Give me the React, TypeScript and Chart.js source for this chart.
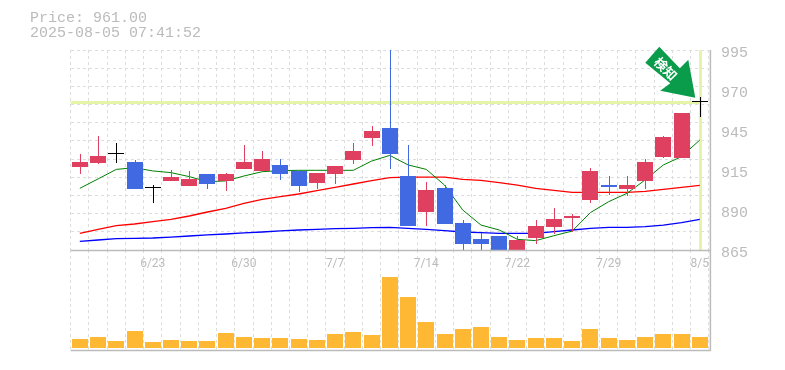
import React, { useEffect, useRef } from "react";
import { Chart, registerables } from "chart.js";

Chart.register(...registerables);

const dates = ["6/17","6/18","6/19","6/20","6/23","6/24","6/25","6/26","6/27","6/30","7/1","7/2","7/3","7/4","7/7","7/8","7/9","7/10","7/11","7/14","7/15","7/16","7/17","7/18","7/22","7/23","7/24","7/25","7/28","7/29","7/30","7/31","8/1","8/4","8/5"];
const shownDates = ["6/23","6/30","7/7","7/14","7/22","7/29","8/5"];

const opens = [919.0,921.5,927.4,922.2,905.3,909.8,906.6,914.4,909.8,917.6,916.3,920.3,916.4,908.5,914.4,923.5,937.8,944.3,913.1,889.7,905.3,882.5,872.2,874.1,860,872.8,880,885.8,897.5,907.2,904.6,909.8,925.4,924.8,961];
const closes = [922.2,926.1,927.4,904.7,905.3,912.4,911.2,907.9,914.4,922.2,924.1,914.4,906.6,915,919.6,929.3,942.3,927.4,880.6,904,881.9,868.9,868.9,860,871.5,880.6,885.1,887.1,916.3,906,907.2,922.2,938.4,954,961];
const highs = [927.4,939.1,934.5,923.5,907.2,917,916.3,914.4,915,933.3,929.4,924.1,917,915,919.6,934.5,945.6,1000,933.3,909.2,907.2,884.5,876,874.1,874,884.5,892.3,888.4,918.3,913.1,913.1,924.2,939.1,954,964.4];
const lows = [914.4,920.9,921.5,904.7,895.5,909.8,906.6,904.7,903.4,917.6,916.3,910.5,902.7,904.7,907.9,920.9,932.6,917.6,880.6,880.6,881.9,860,860,860,860,868.9,875.4,876.7,895.5,900.7,900.1,904.6,924.8,924.8,951.5];
const volumes = [9,11,7,17,6,8,7,7,15,11,10,10,9,8,14,16,13,71,51,26,14,19,21,11,8,10,10,7,19,10,8,11,14,14,11];

const maShort = [905.1,911.2,917.4,918.5,916.4,915.3,912.7,909.4,909.9,913.1,915.9,916.6,916.8,916.8,916.8,916.8,922.8,926.5,920.3,917.4,907.2,891,881.2,878,871.9,871.1,874.3,877.3,889.3,896.4,901.8,910.5,920.3,925.7,936.5];
const maMid = [875.8,878.4,880.8,881.9,883.4,884.9,887.1,889.7,892.1,895.3,897.9,899.7,901.4,903.6,905.7,907.9,910.1,912,912.4,912.4,912.4,910.9,910.3,908.8,907.2,905.1,903.8,902.5,902.5,902.5,902.5,903.1,904.4,905.7,907];
const maLong = [870.6,871.5,872.4,872.6,872.8,873.4,874.1,874.8,875.4,876.1,876.7,877.4,878,878.4,878.9,879.1,879.5,879.7,879.1,878.4,877.6,876.7,876.3,875.8,875.8,875.8,876.9,878,879.1,879.7,879.7,880.2,881.2,882.8,884.9];

const priceLabels = ["865","890","915","945","970","995"];
const priceLabelValues = [865,891,917,943,969,995];
const priceGridValues = [865,876.82,888.64,900.45,912.27,924.09,935.91,947.73,959.55,971.36,983.18,995];
const currentPrice = 961;
const priceText = "Price: 961.00";
const timeText = "2025-08-05 07:41:52";
const arrowText = "検知";

const RED = "#E04060";
const BLUE = "#4169E1";
const GRID = "#dddddd";
const AXIS = "#bbbbbb";
const TEXT = "#bbbbbb";
const MONO = "'Liberation Mono', monospace";

const candleColor = (i: number) =>
  closes[i] > opens[i] ? RED : closes[i] < opens[i] ? BLUE : "#000000";
const candleColors = dates.map((_, i) => candleColor(i));

// Snap the library's computed bars to whole pixels, so that they stay crisp.
const crispBarsPlugin = {
  id: "crispBars",
  afterDatasetsUpdate(chart: any) {
    chart.data.datasets.forEach((ds: any, index: number) => {
      if (ds.type === "line") return;
      const meta = chart.getDatasetMeta(index);
      const thin = ds.barThickness === 1;
      meta.data.forEach((el: any) => {
        el.x = Math.round(el.x) + (thin ? 0.5 : 0);
        const base = Math.round(el.base);
        let y = Math.round(el.y);
        if (y === base) y = base - 1;
        el.base = base;
        el.y = y;
      });
    });
  },
};

const borderPlugin = {
  id: "frame",
  afterDraw(chart: any) {
    const { ctx, chartArea: a } = chart;
    ctx.save();
    ctx.strokeStyle = AXIS;
    ctx.lineWidth = 1.5;
    ctx.beginPath();
    ctx.moveTo(a.left, a.bottom + 0.5);
    ctx.lineTo(a.right + 2, a.bottom + 0.5);
    ctx.moveTo(a.right + 1.5, a.top);
    ctx.lineTo(a.right + 1.5, a.bottom + 0.5);
    ctx.stroke();
    ctx.restore();
  },
};

const markerPlugin = {
  id: "marker",
  beforeDatasetsDraw(chart: any) {
    const { ctx, chartArea: a, scales } = chart;
    const x = scales.x.getPixelForValue(dates.length - 1);
    const y = scales.y.getPixelForValue(currentPrice);
    ctx.save();
    ctx.fillStyle = "#E4F5A8";
    ctx.fillRect(a.left, Math.round(y) - 1, x - a.left, 3);
    ctx.fillRect(Math.round(x) - 1, a.top, 3, a.bottom - a.top);
    ctx.restore();
  },
  afterDatasetsDraw(chart: any) {
    const { ctx, scales } = chart;
    const x = scales.x.getPixelForValue(dates.length - 1);
    const y = scales.y.getPixelForValue(currentPrice);
    const ax = x - 4.5;
    const ay = y - 4.5;
    const outline = [[0,0],[-35,-7],[-25,-14.5],[-50,-35],[-36,-51],[-15.5,-29.5],[-7,-38]];
    ctx.save();
    ctx.fillStyle = "#0A9B4B";
    ctx.beginPath();
    outline.forEach(([dx, dy], i) =>
      i === 0 ? ctx.moveTo(ax + dx, ay + dy) : ctx.lineTo(ax + dx, ay + dy)
    );
    ctx.closePath();
    ctx.fill();
    ctx.translate(ax - 29.5, ay - 29);
    ctx.rotate(Math.PI / 4);
    ctx.fillStyle = "#ffffff";
    ctx.font = "bold 13px 'Noto Sans CJK JP'";
    ctx.textAlign = "center";
    ctx.textBaseline = "middle";
    ctx.fillText(arrowText, 0, 0);
    ctx.restore();
  },
};

const canvasStyle: React.CSSProperties = { position: "absolute", left: 0, top: 0 };

export default function App() {
  const priceRef = useRef<HTMLCanvasElement>(null);
  const volumeRef = useRef<HTMLCanvasElement>(null);

  useEffect(() => {
    const volumeChart = new Chart(volumeRef.current!, {
      type: "bar",
      data: {
        labels: dates,
        datasets: [{ data: volumes, backgroundColor: "#FFB833", barThickness: 16, inflateAmount: 0 }],
      },
      plugins: [crispBarsPlugin, borderPlugin],
      options: {
        responsive: false,
        animation: false,
        layout: { autoPadding: false, padding: { left: 70.7, right: 76.1, top: 250, bottom: 20 } },
        plugins: { legend: { display: false }, tooltip: { enabled: false } },
        scales: {
          x: {
            offset: true,
            grid: { color: GRID, offset: true, drawTicks: false },
            border: { display: false, dash: [3, 3] },
            ticks: { display: false },
            afterFit(axis: any) { axis.height = 0; },
          },
          y: { display: false, min: -2, max: 98 },
        },
      },
    } as any);

    const priceChart = new Chart(priceRef.current!, {
      data: {
        labels: dates,
        datasets: [
          { type: "line", data: maLong, borderColor: "#0000ff", borderWidth: 1.3, pointRadius: 0, order: 5 },
          { type: "line", data: maMid, borderColor: "#ff0000", borderWidth: 1.3, pointRadius: 0, order: 4 },
          { type: "line", data: maShort, borderColor: "#008000", borderWidth: 1, pointRadius: 0, order: 3 },
          {
            type: "bar",
            data: dates.map((_, i) => [lows[i], highs[i]]),
            backgroundColor: candleColors,
            barThickness: 1,
            inflateAmount: 0,
            grouped: false,
            order: 2,
          },
          {
            type: "bar",
            data: dates.map((_, i) => [opens[i], closes[i]]),
            backgroundColor: candleColors,
            barThickness: 16,
            inflateAmount: 0,
            minBarLength: 1,
            grouped: false,
            order: 1,
          },
        ],
      },
      plugins: [crispBarsPlugin, markerPlugin, borderPlugin],
      options: {
        responsive: false,
        animation: false,
        layout: { autoPadding: false, padding: { top: 50 } },
        plugins: { legend: { display: false }, tooltip: { enabled: false } },
        scales: {
          x: {
            offset: true,
            grid: { color: GRID, offset: true, drawTicks: false },
            border: { display: false, dash: [3, 3] },
            ticks: {
              autoSkip: false,
              maxRotation: 0,
              padding: 7,
              color: TEXT,
              font: { family: "Roboto", size: 12 },
              callback: (_: any, i: number) => (shownDates.includes(dates[i]) ? dates[i] : ""),
            },
            afterFit(axis: any) { axis.height = 120; },
          },
          y: {
            position: "left",
            min: 865,
            max: 995,
            grid: { color: GRID, drawTicks: false },
            border: { display: false, dash: [3, 3] },
            ticks: { display: false },
            afterBuildTicks(axis: any) { axis.ticks = priceGridValues.map((value) => ({ value })); },
            afterFit(axis: any) { axis.width = 70.7; },
          },
          yLabels: {
            position: "right",
            min: 865,
            max: 995,
            grid: { display: false, drawTicks: false },
            border: { display: false },
            ticks: {
              padding: 12,
              labelOffset: 3,
              color: TEXT,
              font: { family: MONO, size: 15 },
              callback: (_: any, i: number) => priceLabels[i],
            },
            afterBuildTicks(axis: any) { axis.ticks = priceLabelValues.map((value) => ({ value })); },
            afterFit(axis: any) { axis.width = 76.1; },
          },
        },
      },
    } as any);

    return () => {
      priceChart.destroy();
      volumeChart.destroy();
    };
  }, []);

  return (
    <div style={{ position: "absolute", left: 0, top: 0, width: 785, height: 370, background: "#fff" }}>
      <canvas ref={volumeRef} width={785} height={370} style={canvasStyle} />
      <canvas ref={priceRef} width={785} height={370} style={canvasStyle} />
      <div
        style={{
          position: "absolute",
          left: 30,
          top: 11,
          font: `15px/15px ${MONO}`,
          color: TEXT,
          whiteSpace: "pre",
        }}
      >
        {priceText + "\n" + timeText}
      </div>
    </div>
  );
}
